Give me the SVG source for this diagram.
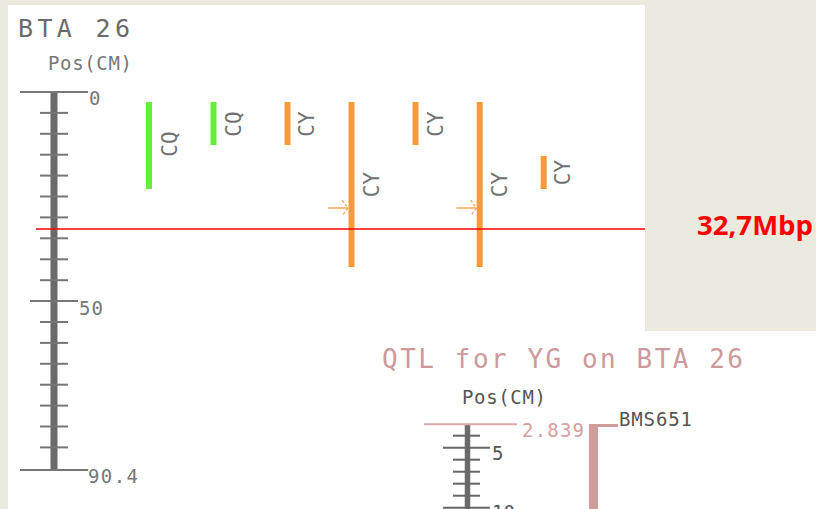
<svg xmlns="http://www.w3.org/2000/svg" width="816" height="509" viewBox="0 0 816 509">
  <defs>
    <style>
      .mono { font-family: "DejaVu Sans Mono", "Liberation Mono", monospace; }
      .title { font-size: 25px; fill: #6a6a6a; }
      .qtitle { font-size: 26px; fill: #cc9a9a; }
      .axis { font-size: 19px; fill: #777777; }
      .dark { fill: #555555; }
      .rose { fill: #d4a0a0; }
      .lab { font-size: 21px; fill: #707070; }
      .tick { stroke: #767676; stroke-width: 2; }
      .tick2 { stroke: #666666; stroke-width: 2; }
      .spine { stroke: #6a6a6a; stroke-width: 7; }
      .green { fill: #62ee3a; }
      .orange { fill: #fd9a38; }
      .pink { fill: #cf9c9c; }
      .arrow { stroke: #fd9a38; stroke-width: 1.3; fill: none; }
    </style>
    <marker id="head" markerWidth="10" markerHeight="20" refX="8" refY="10" orient="auto" markerUnits="userSpaceOnUse">
      <path d="M2,2 L8,10 L2,18" fill="none" stroke="#fd9a38" stroke-width="1.2" stroke-dasharray="3 2"/>
    </marker>
  </defs>

  <!-- page background and white chart area -->
  <rect width="816" height="509" fill="#ece9df"/>
  <path d="M8,5 H645 V331 H816 V509 H8 Z" fill="#ffffff"/>

  <!-- chromosome overview -->
  <g id="chromosome-map">
    <text class="mono title" x="18" y="37" textLength="112" lengthAdjust="spacing">BTA 26</text>
    <text class="mono axis" x="48" y="70" textLength="84" lengthAdjust="spacing">Pos(CM)</text>
    <line class="spine" x1="54" y1="92" x2="54" y2="470"/>
    <line class="tick" x1="20" y1="92" x2="88" y2="92"/>
    <line class="tick" x1="20" y1="470" x2="88" y2="470"/>
    <g class="tick">
      <line x1="40" y1="112.9" x2="68" y2="112.9"/>
      <line x1="40" y1="133.8" x2="68" y2="133.8"/>
      <line x1="40" y1="154.7" x2="68" y2="154.7"/>
      <line x1="40" y1="175.6" x2="68" y2="175.6"/>
      <line x1="40" y1="196.5" x2="68" y2="196.5"/>
      <line x1="40" y1="217.4" x2="68" y2="217.4"/>
      <line x1="40" y1="238.3" x2="68" y2="238.3"/>
      <line x1="40" y1="259.3" x2="68" y2="259.3"/>
      <line x1="40" y1="280.2" x2="68" y2="280.2"/>
      <line x1="30" y1="301.1" x2="78" y2="301.1"/>
      <line x1="40" y1="322.0" x2="68" y2="322.0"/>
      <line x1="40" y1="342.9" x2="68" y2="342.9"/>
      <line x1="40" y1="363.8" x2="68" y2="363.8"/>
      <line x1="40" y1="384.7" x2="68" y2="384.7"/>
      <line x1="40" y1="405.6" x2="68" y2="405.6"/>
      <line x1="40" y1="426.5" x2="68" y2="426.5"/>
      <line x1="40" y1="447.4" x2="68" y2="447.4"/>
    </g>
    <text class="mono axis" x="89" y="105">0</text>
    <text class="mono axis" x="79" y="315" textLength="24" lengthAdjust="spacing">50</text>
    <text class="mono axis" x="88" y="483" textLength="50" lengthAdjust="spacing">90.4</text>
  </g>

  <!-- QTL intervals -->
  <g id="qtl-cq-1">
    <rect class="green" x="146" y="102" width="6" height="87"/>
    <text class="mono lab" text-anchor="middle" transform="translate(177,144) rotate(-90)">CQ</text>
  </g>
  <g id="qtl-cq-2">
    <rect class="green" x="210.5" y="102" width="6" height="43"/>
    <text class="mono lab" text-anchor="middle" transform="translate(241,124) rotate(-90)">CQ</text>
  </g>
  <g id="qtl-cy-1">
    <rect class="orange" x="284.5" y="102" width="6" height="43"/>
    <text class="mono lab" text-anchor="middle" transform="translate(314,124) rotate(-90)">CY</text>
  </g>
  <g id="qtl-cy-2">
    <rect class="orange" x="348.5" y="102" width="6" height="165"/>
    <text class="mono lab" text-anchor="middle" transform="translate(378.5,184.5) rotate(-90)">CY</text>
  </g>
  <g id="qtl-cy-3">
    <rect class="orange" x="412.5" y="102" width="6" height="43"/>
    <text class="mono lab" text-anchor="middle" transform="translate(442.5,124) rotate(-90)">CY</text>
  </g>
  <g id="qtl-cy-4">
    <rect class="orange" x="476.7" y="102" width="6" height="165"/>
    <text class="mono lab" text-anchor="middle" transform="translate(506.5,184.5) rotate(-90)">CY</text>
  </g>
  <g id="qtl-cy-5">
    <rect class="orange" x="540.7" y="156" width="6" height="33"/>
    <text class="mono lab" text-anchor="middle" transform="translate(570,172.5) rotate(-90)">CY</text>
  </g>

  <!-- peak pointers and the marked physical position -->
  <g id="connectors">
    <line class="arrow" x1="328" y1="208" x2="348" y2="208" marker-end="url(#head)"/>
    <line class="arrow" x1="456.5" y1="208" x2="476.5" y2="208" marker-end="url(#head)"/>
    <line x1="36" y1="229" x2="645" y2="229" stroke="#ff0000" stroke-width="1.5"/>
  </g>

  <g id="position-label">
    <text x="697" y="235" font-family="'Open Sans', 'Liberation Sans', sans-serif" font-weight="bold" font-size="27" fill="#ff0000" textLength="116" lengthAdjust="spacingAndGlyphs">32,7Mbp</text>
  </g>

  <!-- detail view of the YG QTL -->
  <g id="qtl-detail">
    <text class="mono qtitle" x="382" y="368" textLength="361" lengthAdjust="spacing">QTL for YG on BTA 26</text>
    <text class="mono axis dark" x="462" y="404" textLength="84" lengthAdjust="spacing">Pos(CM)</text>
    <line x1="467.5" y1="425" x2="467.5" y2="515" stroke="#6a6a6a" stroke-width="5.5"/>
    <line x1="424" y1="424.3" x2="517" y2="424.3" stroke="#d9aaaa" stroke-width="2"/>
    <text class="mono axis rose" x="522" y="437" textLength="62" lengthAdjust="spacing">2.839</text>
    <g class="tick2">
      <line x1="453" y1="435.7" x2="480" y2="435.7"/>
      <line x1="443" y1="447.7" x2="490" y2="447.7"/>
      <line x1="453" y1="459.7" x2="480" y2="459.7"/>
      <line x1="453" y1="471.7" x2="480" y2="471.7"/>
      <line x1="453" y1="483.7" x2="480" y2="483.7"/>
      <line x1="453" y1="495.7" x2="480" y2="495.7"/>
      <line x1="443" y1="507.7" x2="490" y2="507.7"/>
    </g>
    <text class="mono axis dark" x="492" y="460">5</text>
    <text class="mono axis dark" x="492" y="519">10</text>
    <rect class="pink" x="589" y="424" width="9" height="90"/>
    <rect class="pink" x="589" y="424" width="29" height="3"/>
    <text class="mono axis dark" x="619" y="426" textLength="73" lengthAdjust="spacing">BMS651</text>
  </g>
</svg>
